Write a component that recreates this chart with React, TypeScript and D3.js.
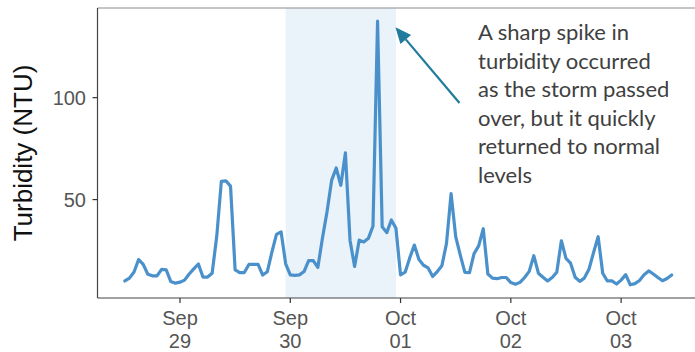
import React from "react";
import * as d3 from "d3";

// Hourly turbidity readings starting Sep 28 12:00
const startTime = new Date(2023, 8, 28, 12, 0);
const turbidity: number[] = [
  10.1, 11.5, 14.5, 20.6, 18.2, 13.4, 12.6, 12.6, 15.8, 15.6,
  9.8, 9.0, 9.5, 10.5, 13.5, 16.0, 18.4, 12.0, 12.0, 13.9,
  32.0, 58.9, 59.2, 56.6, 15.5, 14.2, 14.2, 18.2, 18.2, 18.2,
  13.0, 14.6, 24.2, 32.9, 34.2, 18.5, 13.1, 12.8, 13.1, 14.7,
  20.1, 20.1, 16.7, 31.0, 44.0, 59.4, 65.5, 57.0, 72.9, 30.1,
  17.2, 30.1, 29.2, 31.0, 37.0, 137.5, 36.7, 33.8, 40.0, 35.9,
  13.1, 14.4, 21.4, 27.7, 20.6, 17.8, 16.5, 12.3, 14.7, 17.6,
  28.5, 52.9, 31.8, 22.8, 14.3, 14.2, 23.5, 27.3, 35.7, 13.5,
  11.5, 11.2, 11.8, 11.8, 9.3, 8.5, 9.4, 11.8, 14.8, 22.5,
  13.9, 11.9, 10.1, 11.8, 14.4, 29.8, 21.2, 18.8, 11.9, 9.9,
  11.5, 15.8, 24.0, 31.8, 13.9, 10.1, 10.1, 8.6, 10.5, 13.2,
  8.2, 8.8, 10.3, 13.1, 15.0, 13.5, 11.8, 10.2, 11.3, 13.0,
];
const yTicks: number[] = [50, 100];
const xTickDates: Date[] = [
  new Date(2023, 8, 29), new Date(2023, 8, 30), new Date(2023, 9, 1),
  new Date(2023, 9, 2), new Date(2023, 9, 3),
];
const stormStart = new Date(2023, 8, 29, 23, 0);
const stormEnd = new Date(2023, 8, 30, 23, 0);
const annotationLines: string[] = [
  "A sharp spike in",
  "turbidity occurred",
  "as the storm passed",
  "over, but it quickly",
  "returned to normal",
  "levels",
];
const yTitle = "Turbidity (NTU)";

const HOUR = 3600 * 1000;
const data = turbidity.map((v, i) => ({ t: new Date(startTime.getTime() + i * HOUR), v }));

export default function App() {
  const W = 695, H = 352;
  const left = 97.5, right = 699, top = 8, bottom = 298;

  const tExt = d3.extent(data, (d) => d.t.getTime()) as [number, number];
  const tPad = (tExt[1] - tExt[0]) * 0.05;
  const x = d3.scaleTime()
    .domain([new Date(tExt[0] - tPad), new Date(tExt[1] + tPad)])
    .range([left, right]);
  const vExt = d3.extent(data, (d) => d.v) as [number, number];
  const vPad = (vExt[1] - vExt[0]) * 0.05;
  const y = d3.scaleLinear().domain([vExt[0] - vPad, vExt[1] + vPad]).range([bottom, top]);

  const line = d3.line<{ t: Date; v: number }>()
    .x((d) => x(d.t))
    .y((d) => y(d.v));

  const fmtMon = d3.timeFormat("%b");
  const fmtDay = d3.timeFormat("%d");

  const axisFont = "'Liberation Sans', Arial, sans-serif";
  const spikeIdx = d3.maxIndex(data, (d) => d.v);
  const spike = data[spikeIdx];
  const arrowTip: [number, number] = [x(stormEnd) - 0.5, y(spike.v) + 6];
  const arrowTail: [number, number] = [459.5, 103];
  const ang = Math.atan2(arrowTip[1] - arrowTail[1], arrowTip[0] - arrowTail[0]);
  const headLen = 16, headW = 7;
  const bx = arrowTip[0] - headLen * Math.cos(ang);
  const by = arrowTip[1] - headLen * Math.sin(ang);
  const px = -Math.sin(ang), py = Math.cos(ang);
  const head = `M${arrowTip[0]},${arrowTip[1]}L${bx + px * headW},${by + py * headW}L${bx - px * headW},${by - py * headW}Z`;

  return (
    <svg width={W} height={H} style={{ position: "absolute", left: 0, top: 0, background: "#fff" }}>
      <rect x={x(stormStart)} y={top} width={x(stormEnd) - x(stormStart)} height={bottom - top} fill="#eaf2fa" />
      <path d={line(data) || ""} fill="none" stroke="#4a91cb" strokeWidth={3.2} strokeLinejoin="round" strokeLinecap="round" />
      {/* panel border */}
      <line x1={left} x2={right} y1={top} y2={top} stroke="#8a8a8a" strokeWidth={1} />
      <line x1={left} x2={left} y1={top} y2={bottom} stroke="#444" strokeWidth={1.2} />
      <line x1={left} x2={right} y1={bottom} y2={bottom} stroke="#444" strokeWidth={1.2} />
      {yTicks.map((t) => (
        <g key={t}>
          <line x1={left - 5} x2={left} y1={y(t)} y2={y(t)} stroke="#333" strokeWidth={1.2} />
          <text x={left - 11.5} y={y(t)} dy="0.36em" textAnchor="end" fontFamily={axisFont} fontSize={20} fill="#555">{t}</text>
        </g>
      ))}
      {xTickDates.map((d) => (
        <g key={d.getTime()}>
          <line x1={x(d)} x2={x(d)} y1={bottom} y2={bottom + 5} stroke="#333" strokeWidth={1.2} />
          <text x={x(d)} y={325} textAnchor="middle" fontFamily={axisFont} fontSize={20} fill="#555">{fmtMon(d)}</text>
          <text x={x(d)} y={348} textAnchor="middle" fontFamily={axisFont} fontSize={20} fill="#555">{fmtDay(d)}</text>
        </g>
      ))}
      <text transform={`translate(31.5,${(top + bottom) / 2}) rotate(-90)`} textAnchor="middle" fontFamily={axisFont} fontSize={26} fill="#111">{yTitle}</text>
      <line x1={arrowTail[0]} y1={arrowTail[1]} x2={bx} y2={by} stroke="#207b9c" strokeWidth={2.2} />
      <path d={head} fill="#207b9c" />
      {annotationLines.map((s, i) => (
        <text key={i} x={478} y={40 + i * 28.5} fontFamily="Lato, 'Open Sans', sans-serif" fontSize={22} fill="#404040">{s}</text>
      ))}
    </svg>
  );
}
